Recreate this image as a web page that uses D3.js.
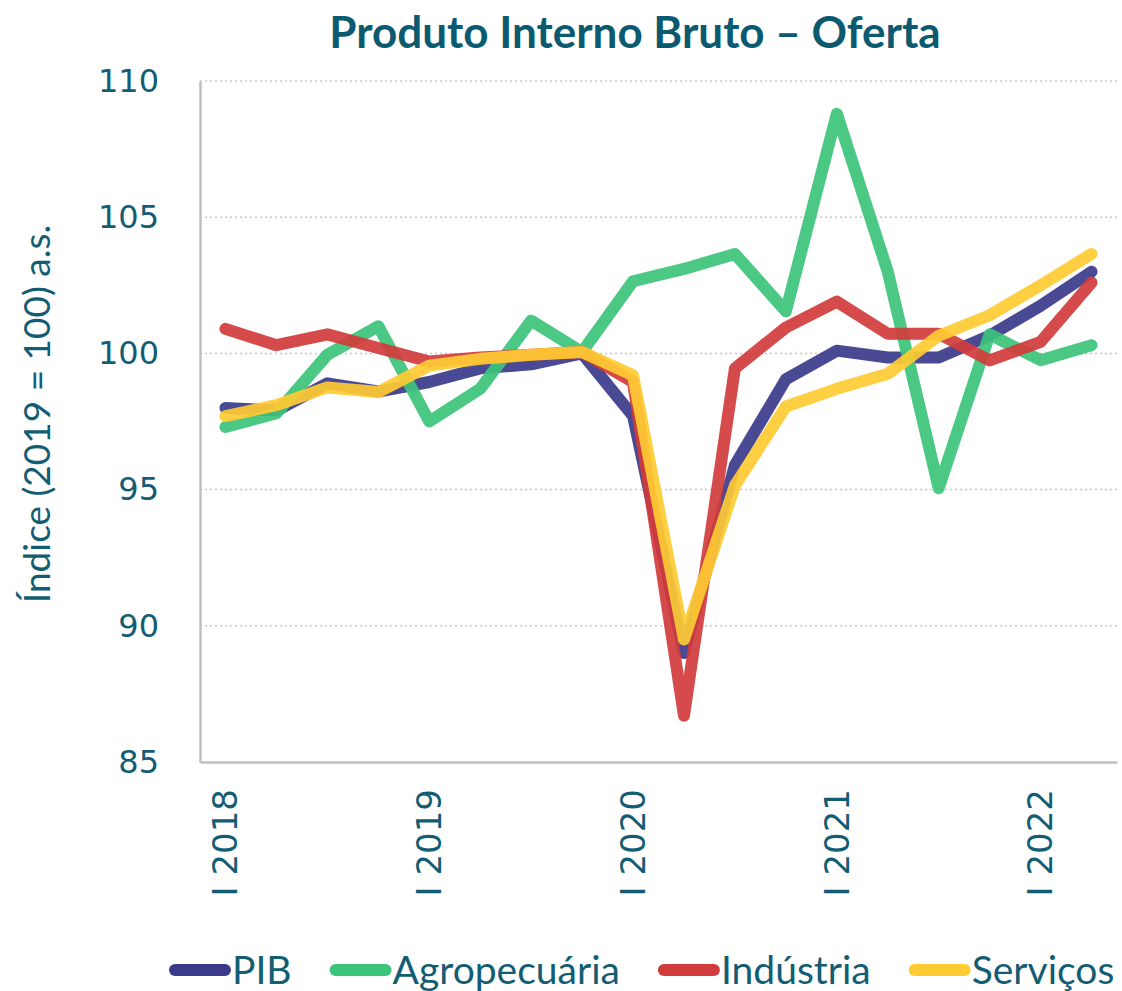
<!DOCTYPE html>
<html>
<head>
<meta charset="utf-8">
<script src="https://cdn.jsdelivr.net/npm/d3@7"></script>
<style>
  body { margin: 0; background: #fff; }
  svg { display: block; }
</style>
</head>
<body>
<svg id="chart"></svg>
<script>
const svg = d3.select("#chart");

svg
  .attr('width', 1122)
  .attr('height', 991)
  .style("background-color", "#ffffff")

// quarters I 2018 .. II 2022
const quarters = [
  "I 2018", "II 2018", "III 2018", "IV 2018",
  "I 2019", "II 2019", "III 2019", "IV 2019",
  "I 2020", "II 2020", "III 2020", "IV 2020",
  "I 2021", "II 2021", "III 2021", "IV 2021",
  "I 2022", "II 2022"
];

const pib = [98.0, 97.9, 98.9, 98.6, 98.95, 99.45, 99.6, 100.0,
  97.7, 89.0, 95.9, 99.05, 100.1, 99.85, 99.85, 100.65, 101.75, 103.0];
const agro = [97.3, 97.8, 99.95, 101.0, 97.5, 98.7, 101.2, 100.05,
  102.65, 103.1, 103.65, 101.55, 108.8, 103.0, 95.05, 100.7, 99.75, 100.3];
const industria = [100.9, 100.3, 100.7, 100.2, 99.7, 99.85, 99.95, 100.05,
  98.95, 86.7, 99.45, 100.95, 101.9, 100.72, 100.72, 99.74, 100.42, 102.6];
const servicos = [97.7, 98.1, 98.75, 98.58, 99.55, 99.8, 99.95, 100.05,
  99.2, 89.5, 95.15, 98.05, 98.7, 99.25, 100.65, 101.4, 102.5, 103.65];

const yTicks = [85, 90, 95, 100, 105, 110];

const seriesNames = ["PIB", "Agropecuária", "Indústria", "Serviços"];
const seriesValues = [pib, agro, industria, servicos];
const colors = ["#3b3a8b", "#3cc47a", "#d13b3b", "#ffcb33"];

const textColor = "#135d74";
const fontNarrow = "Lato, 'Open Sans', sans-serif";
const fontWide = "'DejaVu Sans', Verdana, sans-serif";

// plot area
const plotL = 200, plotR = 1117, plotT = 81, plotB = 762;

const x = d3.scaleBand().domain(quarters).range([plotL, plotR]);
const y = d3.scaleLinear().domain([85, 110]).range([plotB, plotT]);
const cx = d => x(d) + x.bandwidth() / 2;

// title
svg.append('text')
  .attr('x', 635)
  .attr('y', 48)
  .attr('text-anchor', 'middle')
  .attr('font-family', fontNarrow)
  .attr('font-weight', 'bold')
  .attr('font-size', 44)
  .attr('fill', "#0b5a70")
  .text("Produto Interno Bruto – Oferta");

// gridlines
svg.append('g')
  .selectAll('line')
  .data(yTicks.filter(t => t > 85))
  .join('line')
  .attr('x1', plotL)
  .attr('x2', plotR)
  .attr('y1', d => y(d))
  .attr('y2', d => y(d))
  .attr('stroke', '#c8c8c8')
  .attr('stroke-width', 1.5)
  .attr('stroke-dasharray', '2,3');

// y axis
const yAxis = svg.append('g')
  .attr('transform', `translate(${plotL},0)`)
  .call(d3.axisLeft(y).tickValues(yTicks).tickSize(0).tickPadding(41));
yAxis.select('.domain').attr('stroke', '#bfbfbf').attr('stroke-width', 2.5);
yAxis.selectAll('text')
  .attr('font-family', fontWide)
  .attr('font-size', 32)
  .attr('fill', textColor);

// x axis
const xAxis = svg.append('g')
  .attr('transform', `translate(0,${plotB})`)
  .call(d3.axisBottom(x).tickValues(quarters.filter(q => q.startsWith("I "))).tickSize(0));
xAxis.select('.domain').attr('stroke', '#bfbfbf').attr('stroke-width', 2.5);
xAxis.selectAll('text')
  .attr('font-family', fontWide)
  .attr('font-size', 34)
  .attr('fill', textColor)
  .attr('transform', 'rotate(-90)')
  .attr('text-anchor', 'end')
  .attr('x', -27)
  .attr('y', 0)
  .attr('dy', '0.35em');

// y title
svg.append('text')
  .attr('transform', 'translate(50,414) rotate(-90)')
  .attr('text-anchor', 'middle')
  .attr('font-family', fontNarrow)
  .attr('font-size', 37)
  .attr('fill', textColor)
  .text("Índice (2019 = 100) a.s.");

// lines
const line = d3.line()
  .x((d, i) => cx(quarters[i]))
  .y(d => y(d));

svg.append('g')
  .selectAll('path')
  .data(seriesValues)
  .join('path')
  .attr('d', d => line(d))
  .attr('fill', 'none')
  .attr('stroke', (d, i) => colors[i])
  .attr('stroke-opacity', 0.92)
  .attr('stroke-width', 12)
  .attr('stroke-linejoin', 'round')
  .attr('stroke-linecap', 'round');

// legend
const legend = svg.append('g');
let lx = 175;
const ly = 970;
seriesNames.forEach((name, i) => {
  legend.append('line')
    .attr('x1', lx)
    .attr('x2', lx + 50)
    .attr('y1', ly)
    .attr('y2', ly)
    .attr('stroke', colors[i])
    .attr('stroke-width', 12)
    .attr('stroke-linecap', 'round');
  const t = legend.append('text')
    .attr('x', lx + 57)
    .attr('y', ly + 14)
    .attr('font-family', fontNarrow)
    .attr('font-size', 39)
    .attr('fill', textColor)
    .text(name);
  lx += 57 + t.node().getComputedTextLength() + 44;
});
</script>
</body>
</html>
